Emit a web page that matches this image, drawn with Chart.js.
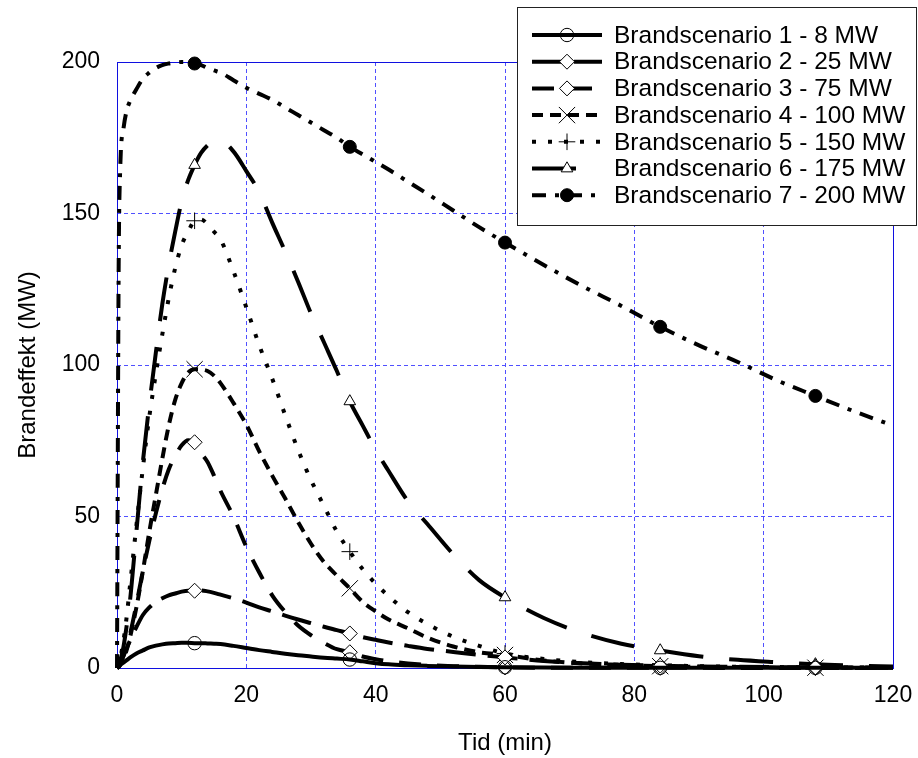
<!DOCTYPE html>
<html>
<head>
<meta charset="utf-8">
<script src="https://cdn.jsdelivr.net/npm/chart.js@4/dist/chart.umd.min.js"></script>
<style>
  body { margin: 0; background: #fff; }
  canvas { display: block; }
</style>
</head>
<body>
<canvas id="chart" width="918" height="758"></canvas>
<script>
// tidspunkter (min) som alle kurverne er aflæst i
const tid = [0, 0.25, 0.5, 1, 1.5, 2, 3, 4, 5, 6, 7, 8, 9, 10, 11, 12, 13, 14, 15, 16,
  18, 20, 22, 24, 26, 28, 30, 32, 34, 36, 38, 40, 42, 45, 48, 52, 56, 60,
  66, 72, 78, 84, 90, 96, 102, 108, 114, 120];

// brandeffekt (MW) pr. scenario
const scenarie1 = [0, 0.4, 1, 1.8, 2.6, 3.4, 4.8, 5.8, 6.8, 7.4, 7.8, 8.1, 8.2, 8.3, 8.3, 8.2, 8.2, 8.1, 8, 7.9,
  7.3, 6.6, 5.9, 5.3, 4.7, 4.2, 3.8, 3.4, 3.1, 2.8, 2.2, 1.6, 1.2, 0.9, 0.7, 0.5, 0.35, 0.25,
  0.15, 0.1, 0.05, 0.05, 0.05, 0.05, 0.05, 0.05, 0.05, 0.05];
const scenarie2 = [0, 0.5, 1.2, 4, 6.5, 9, 13.5, 17.5, 20, 21.8, 23, 24, 24.6, 25.2, 25.5, 25.5, 25.6, 25.3, 24.8, 24.2,
  23, 21.6, 20, 18.7, 17.3, 16, 14.8, 13.6, 12.5, 11.4, 10.2, 9.3, 8.4, 7.3, 6.3, 5.3, 4.3, 3.5,
  2.3, 1.6, 1.1, 0.8, 0.5, 0.4, 0.3, 0.2, 0.15, 0.1];
const scenarie3 = [0, 0.5, 1.5, 4, 7, 11, 21, 32, 42, 51, 59, 65.5, 70, 73.5, 75.2, 74.5, 71, 68, 63.5, 58.5,
  50, 40, 31.5, 24, 18.5, 14, 10.8, 8.3, 6.2, 5.2, 3.8, 2.9, 2.2, 1.5, 1, 0.6, 0.4, 0.2,
  0.1, 0.1, 0.05, 0.05, 0.05, 0, 0, 0, 0, 0];
const scenarie4 = [0, 0.3, 1, 3, 6, 10, 20, 32, 45, 57, 69, 80, 88.5, 94, 97.5, 98.6, 98.5, 98, 96.5, 94,
  87.5, 80.3, 71.5, 63.5, 56, 48.2, 41, 35, 30.5, 26.3, 21.8, 18.7, 16, 13.1, 10, 7.1, 5.2, 4.3,
  2.5, 1.5, 1, 0.6, 0.4, 0.3, 0.2, 0.1, 0.1, 0.05];
const scenarie5 = [0, 0.5, 3, 9, 17, 27, 47, 66, 83, 97, 110, 122, 132, 139.5, 144, 147.6, 148, 146.5, 144, 141.5,
  131, 119, 106.5, 95.5, 83.5, 72, 62, 53.5, 45, 38.4, 32.6, 27.8, 23.7, 18.4, 14.5, 10.3, 7.3, 4.8,
  3, 1.9, 1.3, 0.9, 0.6, 0.4, 0.3, 0.2, 0.15, 0.1];
const scenarie6 = [0, 1, 2.5, 7, 14, 22, 45, 68, 87, 104, 120, 133, 144, 154, 161, 166, 170, 172.5, 174, 174,
  170.5, 164, 157, 147, 137.5, 127.5, 117, 107.5, 98, 88, 80, 72, 65, 55, 47.5, 37.5, 29, 23.3,
  16.5, 11.5, 8, 5.8, 3.9, 2.7, 1.9, 1.2, 0.8, 0.5];
const scenarie7 = [0, 130, 165, 178, 184, 187, 191, 194.5, 196.5, 198, 199, 199.5, 199.8, 200, 200, 199.5, 199, 198, 197.2, 196.5,
  194, 191.5, 189.5, 187.5, 185, 182.5, 180, 177.5, 175, 172, 169.5, 167, 164.5, 160.5, 156.5, 151, 145.5, 140.4,
  133, 126, 119.5, 112.6, 106.5, 101, 95, 89.8, 84.7, 80];

const navne = [
  "Brandscenario 1 - 8 MW",
  "Brandscenario 2 - 25 MW",
  "Brandscenario 3 - 75 MW",
  "Brandscenario 4 - 100 MW",
  "Brandscenario 5 - 150 MW",
  "Brandscenario 6 - 175 MW",
  "Brandscenario 7 - 200 MW"
];
const markoerTider = [12, 36, 60, 84, 108];
const xTicks = [0, 20, 40, 60, 80, 100, 120];
const yTicks = [0, 50, 100, 150, 200];

const FONT = "'Liberation Sans', Arial, sans-serif";
const GRID_BLUE = "#5050ff";
const FRAME_BLUE = "#1010e0";

// stil pr. serie: streg, markør
const stile = [
  { dash: [], point: "circle", r: 6.7, fill: "rgba(0,0,0,0)" },
  { dash: [30, 12], point: "rectRot", r: 7.5, fill: "#fff" },
  { dash: [22, 16], point: "rectRot", r: 7.5, fill: "#fff" },
  { dash: [11, 7], point: "crossRot", r: 11.5, fill: "#000" },
  { dash: [4, 12], point: "cross", r: 8.3, fill: "#000" },
  { dash: [44, 26], point: "triangle", r: 6.7, fill: "#fff" },
  { dash: [14, 9, 4, 9], point: "circle", r: 6.5, fill: "#000" }
];

const serier = [scenarie1, scenarie2, scenarie3, scenarie4, scenarie5, scenarie6, scenarie7];

const datasets = serier.map((vals, i) => ({
  label: navne[i],
  data: tid.map((t, j) => ({ x: t, y: vals[j] })),
  borderColor: "#000",
  borderWidth: 4,
  borderDash: stile[i].dash,
  cubicInterpolationMode: "monotone",
  fill: false,
  clip: false,
  pointStyle: stile[i].point,
  pointBackgroundColor: stile[i].fill,
  pointBorderColor: "#000",
  pointBorderWidth: 1,
  pointRadius: c => (c.raw && markoerTider.includes(c.raw.x)) ? stile[i].r : 0,
  pointHoverRadius: c => (c.raw && markoerTider.includes(c.raw.x)) ? stile[i].r : 0
}));

// markør til forklaringen
function tegnMarkoer(ctx, style, x, y) {
  const { point, r, fill } = style;
  ctx.save();
  ctx.setLineDash([]);
  ctx.lineWidth = 1;
  ctx.strokeStyle = "#000";
  ctx.fillStyle = fill;
  ctx.beginPath();
  if (point === "circle") {
    ctx.arc(x, y, r, 0, Math.PI * 2);
    ctx.fill(); ctx.stroke();
  } else if (point === "rectRot") {
    ctx.moveTo(x, y - r); ctx.lineTo(x + r, y); ctx.lineTo(x, y + r); ctx.lineTo(x - r, y); ctx.closePath();
    ctx.fill(); ctx.stroke();
  } else if (point === "triangle") {
    const w = r * Math.sqrt(3) / 2;
    ctx.moveTo(x, y - r); ctx.lineTo(x + w, y + r / 2); ctx.lineTo(x - w, y + r / 2); ctx.closePath();
    ctx.fill(); ctx.stroke();
  } else if (point === "cross") {
    ctx.moveTo(x - r, y); ctx.lineTo(x + r, y); ctx.moveTo(x, y - r); ctx.lineTo(x, y + r);
    ctx.stroke();
  } else if (point === "crossRot") {
    const d = r * Math.SQRT1_2;
    ctx.moveTo(x - d, y - d); ctx.lineTo(x + d, y + d); ctx.moveTo(x + d, y - d); ctx.lineTo(x - d, y + d);
    ctx.stroke();
  }
  ctx.restore();
}

const rammePlugin = {
  id: "ramme",
  beforeDatasetsDraw(chart) {
    const { ctx, chartArea: a } = chart;
    ctx.save();
    ctx.strokeStyle = FRAME_BLUE;
    ctx.lineWidth = 1;
    ctx.strokeRect(Math.round(a.left) + 0.5, Math.round(a.top) + 0.5,
      Math.round(a.right - a.left), Math.round(a.bottom - a.top));
    ctx.restore();
  }
};

const forklaringPlugin = {
  id: "forklaring",
  afterDraw(chart) {
    const ctx = chart.ctx;
    const bx = 517, by = 7, bw = 399, bh = 218;
    ctx.save();
    ctx.fillStyle = "#fff";
    ctx.fillRect(bx, by, bw, bh);
    ctx.strokeStyle = "#222";
    ctx.lineWidth = 1;
    ctx.strokeRect(bx + 0.5, by + 0.5, bw, bh);

    ctx.font = "24.5px " + FONT;
    ctx.textBaseline = "middle";
    ctx.textAlign = "left";
    navne.forEach((navn, i) => {
      const y = 35 + i * 26.7;
      ctx.save();
      ctx.strokeStyle = "#000";
      ctx.lineWidth = 4;
      ctx.setLineDash(stile[i].dash);
      ctx.beginPath();
      ctx.moveTo(532, y);
      ctx.lineTo(602, y);
      ctx.stroke();
      ctx.restore();
      tegnMarkoer(ctx, stile[i], 567, y);
      ctx.fillStyle = "#000";
      ctx.fillText(navn, 614, y + 1);
    });
    ctx.restore();
  }
};

new Chart(document.getElementById("chart"), {
  type: "line",
  data: { datasets },
  plugins: [rammePlugin, forklaringPlugin],
  options: {
    responsive: false,
    animation: false,
    layout: { padding: { top: 62, right: 25, left: 0, bottom: 0 } },
    plugins: {
      legend: { display: false },
      tooltip: { enabled: false }
    },
    scales: {
      x: {
        type: "linear",
        min: 0,
        max: 120,
        afterBuildTicks: s => { s.ticks = xTicks.map(v => ({ value: v })); },
        afterFit: s => { s.height = 90; s.paddingLeft = 0; s.paddingRight = 0; },
        grid: { color: GRID_BLUE, lineWidth: 1, drawTicks: false },
        border: { display: false, dash: [4, 3] },
        ticks: { color: "#000", font: { family: FONT, size: 23 }, padding: 14, maxRotation: 0 },
        title: { display: true, text: "Tid (min)", color: "#000", font: { family: FONT, size: 24 }, padding: { top: 0, bottom: 0 } }
      },
      y: {
        type: "linear",
        min: 0,
        max: 200,
        afterBuildTicks: s => { s.ticks = yTicks.map(v => ({ value: v })); },
        afterFit: s => { s.width = 117; s.paddingTop = 0; s.paddingBottom = 0; },
        grid: { color: GRID_BLUE, lineWidth: 1, drawTicks: false },
        border: { display: false, dash: [4, 3] },
        ticks: { color: "#000", font: { family: FONT, size: 23 }, padding: 17 },
        title: { display: true, text: "Brandeffekt (MW)", color: "#000", font: { family: FONT, size: 24 }, padding: { top: 14, bottom: 0 } }
      }
    }
  }
});
</script>
</body>
</html>
